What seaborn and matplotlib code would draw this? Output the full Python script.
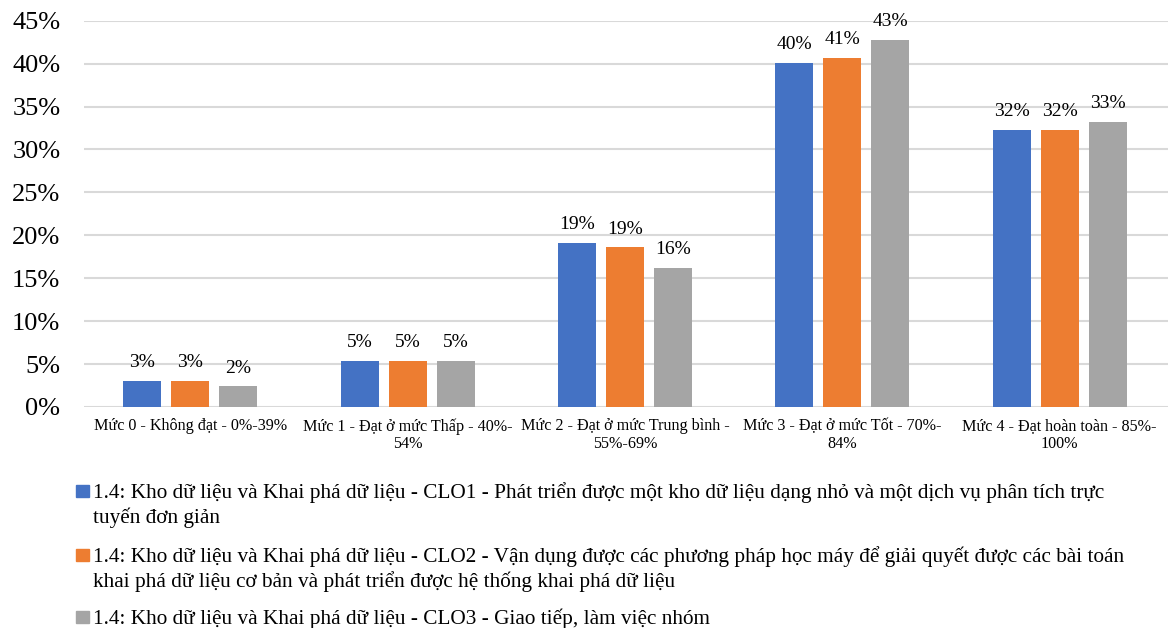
import numpy as np
import pandas as pd
import matplotlib.pyplot as plt
import seaborn as sns
from matplotlib.patches import Rectangle

sns.set_style('white')
plt.rcParams['font.family'] = ['Liberation Serif', 'DejaVu Serif']
plt.rcParams['text.color'] = 'black'
plt.rcParams['xtick.color'] = 'black'
plt.rcParams['ytick.color'] = 'black'

# data
levels = ['Mức 0 - Không đạt - 0%-39%',
          'Mức 1 - Đạt ở mức Thấp - 40%-\n54%',
          'Mức 2 - Đạt ở mức Trung bình -\n55%-69%',
          'Mức 3 - Đạt ở mức Tốt - 70%-\n84%',
          'Mức 4 - Đạt hoàn toàn - 85%-\n100%']
series = ['CLO1', 'CLO2', 'CLO3']
series_names = [
    '1.4: Kho dữ liệu và Khai phá dữ liệu - CLO1 - Phát triển được một kho dữ liệu dạng nhỏ và một dịch vụ phân tích trực\ntuyến đơn giản',
    '1.4: Kho dữ liệu và Khai phá dữ liệu - CLO2 - Vận dụng được các phương pháp học máy để giải quyết được các bài toán\nkhai phá dữ liệu cơ bản và phát triển được hệ thống khai phá dữ liệu',
    '1.4: Kho dữ liệu và Khai phá dữ liệu - CLO3 - Giao tiếp, làm việc nhóm',
]
clo1 = [3.0, 5.4, 19.1, 40.1, 32.3]
clo2 = [3.0, 5.4, 18.6, 40.7, 32.3]
clo3 = [2.4, 5.4, 16.2, 42.8, 33.2]
yticks = [0, 5, 10, 15, 20, 25, 30, 35, 40, 45]

colors = ['#4472C4', '#ED7D31', '#A5A5A5']

df = pd.DataFrame({
    'level': levels * 3,
    'series': [s for s in series for _ in levels],
    'value': clo1 + clo2 + clo3,
})

fig = plt.figure(figsize=(11.71, 6.28), dpi=100)
ax = fig.add_axes([0.0717, 0.352, 0.926, 0.615])

sns.barplot(data=df, x='level', y='value', hue='series', hue_order=series,
            palette=colors, width=0.663, gap=0.21, saturation=1,
            edgecolor='none', legend=False, ax=ax, zorder=3)

for cont in ax.containers:
    ax.bar_label(cont, labels=[f'{v:.0f}%' for v in cont.datavalues],
                 padding=7, fontsize=14)

ax.set_ylim(0, 45)
ax.set_xlim(-0.49, 4.5)
ax.set_yticks(yticks)
ax.set_yticklabels([f'{t}%' for t in yticks], fontsize=19)
ax.set_xticks(range(len(levels)))
ax.set_xticklabels(levels, fontsize=11.6, linespacing=1.15)
ax.tick_params(axis='y', length=0, pad=17)
ax.tick_params(axis='x', length=0, pad=8)
ax.set_xlabel('')
ax.set_ylabel('')
ax.yaxis.grid(True, color='#D9D9D9', linewidth=1.5, zorder=0)
for sp in ax.spines.values():
    sp.set_visible(False)

# legend below the chart, one text per line
baselines = [498, 562, 624]
W, H = 1171, 628
for c, name, y in zip(colors, series_names, baselines):
    fig.patches.append(Rectangle((76 / W, 1 - (y - 1) / H), 13 / W, 12 / H,
                                 transform=fig.transFigure, color=c))
    for i, line in enumerate(name.split('\n')):
        fig.text(93 / W, 1 - (y + 25 * i) / H, line, fontsize=15.3,
                 va='baseline', ha='left')

fig.savefig('out.png', dpi=100)
